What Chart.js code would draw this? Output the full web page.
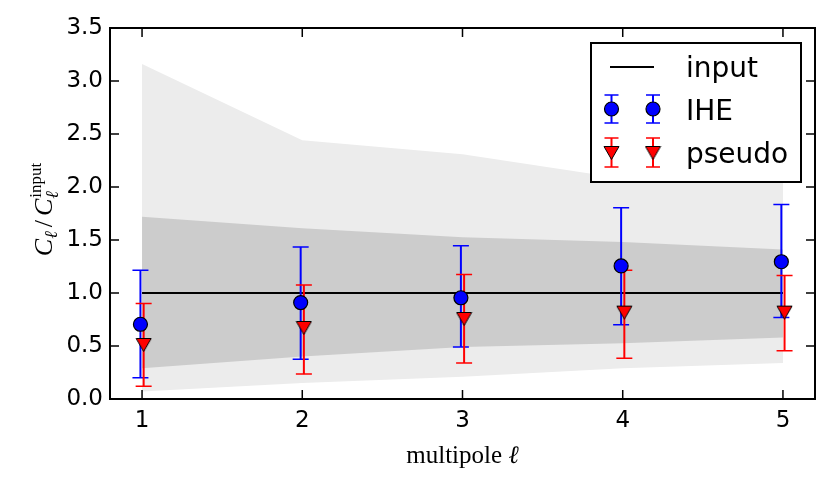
<!DOCTYPE html>
<html lang="en">
<head>
<meta charset="UTF-8">
<title>IHE vs pseudo</title>
<script src="https://cdn.jsdelivr.net/npm/chart.js"></script>
<style>
  html, body { margin: 0; padding: 0; background: #fff; }
  #wrap { width: 830px; height: 488px; }
</style>
</head>
<body>
<div id="wrap"><canvas id="myChart"></canvas></div>
<script>
// multipoles
const ell = [1, 2, 3, 4, 5];
const inputRatio = [1, 1, 1, 1, 1];

// IHE estimate and error bar ends
const ihe = [0.705, 0.91, 0.955, 1.255, 1.295];
const iheLo = [0.20, 0.375, 0.49, 0.70, 0.77];
const iheHi = [1.215, 1.435, 1.445, 1.805, 1.835];

// pseudo-Cl estimate and error bar ends
const pseudo = [0.51, 0.67, 0.755, 0.815, 0.815];
const pseudoLo = [0.12, 0.235, 0.34, 0.385, 0.455];
const pseudoHi = [0.90, 1.075, 1.175, 1.215, 1.165];

// grey bands (outer = light, inner = dark)
const outerHi = [3.16, 2.44, 2.31, 2.08, 2.07];
const outerLo = [0.07, 0.15, 0.21, 0.29, 0.34];
const innerHi = [1.72, 1.61, 1.525, 1.48, 1.41];
const innerLo = [0.29, 0.40, 0.49, 0.525, 0.58];

const xTicks = [1, 2, 3, 4, 5];
const yTicks = [0, 0.5, 1, 1.5, 2, 2.5, 3, 3.5];

const xShift = 0.01; // small horizontal offset between the two estimators

const pts = (xs, ys, dx) => xs.map((x, i) => ({x: x + (dx || 0), y: ys[i]}));

// matplotlib style downward triangle marker
const tri = document.createElement('canvas');
tri.width = 17; tri.height = 16;
(function () {
    const c = tri.getContext('2d');
    c.beginPath();
    c.moveTo(1, 1.5);
    c.lineTo(16, 1.5);
    c.lineTo(8.5, 14.5);
    c.closePath();
    c.fillStyle = '#ff0000';
    c.fill();
    c.lineWidth = 1;
    c.strokeStyle = '#000';
    c.stroke();
})();

function errBar(ctx, px, pyLo, pyHi, color, cap) {
    ctx.strokeStyle = color;
    ctx.lineWidth = 2;
    ctx.beginPath();
    ctx.moveTo(px, pyLo); ctx.lineTo(px, pyHi);
    ctx.stroke();
    ctx.lineWidth = 1.5;
    ctx.beginPath();
    ctx.moveTo(px - cap, pyLo); ctx.lineTo(px + cap, pyLo);
    ctx.moveTo(px - cap, pyHi); ctx.lineTo(px + cap, pyHi);
    ctx.stroke();
}

const errorBars = {
    id: 'errorBars',
    afterDatasetDraw(chart, args) {
        if (args.index !== 4) return;
        const {ctx, scales: {x, y}} = chart;
        ctx.save();
        ell.forEach((l, i) => {
            errBar(ctx, x.getPixelForValue(l - xShift), y.getPixelForValue(iheLo[i]), y.getPixelForValue(iheHi[i]), '#0000ff', 8);
        });
        ell.forEach((l, i) => {
            errBar(ctx, x.getPixelForValue(l + xShift), y.getPixelForValue(pseudoLo[i]), y.getPixelForValue(pseudoHi[i]), '#ff0000', 8);
        });
        ctx.restore();
    }
};

// box with inward ticks on all four sides
const frame = {
    id: 'frame',
    afterDatasetsDraw(chart) {
        const {ctx, chartArea: a, scales: {x, y}} = chart;
        ctx.save();
        ctx.strokeStyle = '#000';
        ctx.lineWidth = 1.5;
        ctx.beginPath();
        xTicks.forEach(v => {
            const px = x.getPixelForValue(v);
            ctx.moveTo(px, a.bottom); ctx.lineTo(px, a.bottom - 9);
            ctx.moveTo(px, a.top); ctx.lineTo(px, a.top + 9);
        });
        yTicks.forEach(v => {
            const py = y.getPixelForValue(v);
            ctx.moveTo(a.left, py); ctx.lineTo(a.left + 9, py);
            ctx.moveTo(a.right, py); ctx.lineTo(a.right - 9, py);
        });
        ctx.stroke();
        ctx.lineWidth = 2;
        ctx.strokeRect(a.left, a.top, a.right - a.left, a.bottom - a.top);
        ctx.restore();
    }
};

const labels = {
    id: 'labels',
    afterDraw(chart) {
        const {ctx, chartArea: a} = chart;
        ctx.save();
        ctx.fillStyle = '#000';

        // x title: multipole ℓ
        ctx.textBaseline = 'alphabetic';
        const t1 = 'multipole ';
        ctx.font = '25px "Liberation Serif"';
        const w1 = ctx.measureText(t1).width;
        ctx.font = 'italic 25px "Liberation Serif"';
        const w2 = ctx.measureText('\u2113').width;
        let sx = (a.left + a.right) / 2 - (w1 + w2) / 2;
        ctx.font = '25px "Liberation Serif"';
        ctx.fillText(t1, sx, 463);
        ctx.font = 'italic 25px "Liberation Serif"';
        ctx.fillText('\u2113', sx + w1, 463);

        // y title: C_ℓ / C_ℓ^input
        ctx.translate(52, 210);
        ctx.rotate(-Math.PI / 2);
        const big = 'italic 26px "Liberation Serif"';
        const sub = 'italic 18px "Liberation Serif"';
        const up = '17px "Liberation Serif"';
        const reg = '26px "Liberation Serif"';
        const m = (f, s) => { ctx.font = f; return ctx.measureText(s).width; };
        const parts = [
            [big, 'C', 0], [sub, '\u2113', 5], [reg, '/', 0], [big, 'C', 0]
        ];
        let total = 0;
        parts.forEach(p => { total += m(p[0], p[1]); });
        const stackW = Math.max(m(up, 'input'), m(sub, '\u2113'));
        total += stackW + 8;
        let px = -total / 2;
        parts.forEach((p, i) => {
            ctx.font = p[0];
            ctx.fillText(p[1], px, p[2]);
            px += ctx.measureText(p[1]).width + (i === 1 || i === 2 ? 4 : 0);
        });
        ctx.font = up;
        ctx.fillText('input', px + 1, -11);
        ctx.font = sub;
        ctx.fillText('\u2113', px, 6);
        ctx.restore();

        // legend
        ctx.save();
        const lx = 591, ly = 43, lw = 210, lh = 139;
        ctx.fillStyle = '#fff';
        ctx.fillRect(lx, ly, lw, lh);
        ctx.strokeStyle = '#000';
        ctx.lineWidth = 2;
        ctx.strokeRect(lx, ly, lw, lh);

        ctx.lineWidth = 2;
        ctx.beginPath();
        ctx.moveTo(610, 67); ctx.lineTo(654, 67);
        ctx.stroke();

        [611.5, 653].forEach(cx => {
            errBar(ctx, cx, 95, 123, '#0000ff', 7);
            ctx.beginPath();
            ctx.arc(cx, 109, 7, 0, Math.PI * 2);
            ctx.fillStyle = '#0000ff';
            ctx.fill();
            ctx.lineWidth = 1.2;
            ctx.strokeStyle = '#000';
            ctx.stroke();
        });
        [611.5, 653].forEach(cx => {
            errBar(ctx, cx, 138, 167, '#ff0000', 7);
            ctx.drawImage(tri, cx - tri.width / 2, 153 - tri.height / 2);
        });

        ctx.fillStyle = '#000';
        ctx.font = '28px "DejaVu Sans"';
        ctx.textBaseline = 'alphabetic';
        ctx.fillText('input', 686, 77);
        ctx.fillText('IHE', 686, 120);
        ctx.fillText('pseudo', 686, 163);
        ctx.restore();
    }
};

Chart.defaults.font.family = '"DejaVu Sans"';
Chart.defaults.color = '#000';

const ctx = document.getElementById('myChart').getContext('2d');
new Chart(ctx, {
    type: 'line',
    data: {
        datasets: [{
            label: 'outer upper',
            data: pts(ell, outerHi),
            fill: 1,
            backgroundColor: '#ececec',
            borderWidth: 0,
            pointRadius: 0,
            order: 6
        }, {
            label: 'outer lower',
            data: pts(ell, outerLo),
            fill: false,
            borderWidth: 0,
            pointRadius: 0,
            order: 6
        }, {
            label: 'inner upper',
            data: pts(ell, innerHi),
            fill: 3,
            backgroundColor: '#cccccc',
            borderWidth: 0,
            pointRadius: 0,
            order: 5
        }, {
            label: 'inner lower',
            data: pts(ell, innerLo),
            fill: false,
            borderWidth: 0,
            pointRadius: 0,
            order: 5
        }, {
            label: 'input',
            data: pts(ell, inputRatio),
            borderColor: '#000',
            borderWidth: 2,
            pointRadius: 0,
            fill: false,
            order: 4
        }, {
            label: 'pseudo',
            data: pts(ell, pseudo, xShift),
            showLine: false,
            pointStyle: tri,
            pointRadius: 8,
            order: 2
        }, {
            label: 'IHE',
            data: pts(ell, ihe, -xShift),
            showLine: false,
            pointStyle: 'circle',
            pointRadius: 7,
            pointBackgroundColor: '#0000ff',
            pointBorderColor: '#000',
            pointBorderWidth: 1.2,
            order: 1
        }]
    },
    options: {
        animation: false,
        responsive: true,
        maintainAspectRatio: false,
        layout: {padding: {top: 28, right: 15, left: 0, bottom: 0}},
        plugins: {
            legend: {display: false},
            tooltip: {enabled: false}
        },
        scales: {
            x: {
                type: 'linear',
                min: 0.8,
                max: 5.2,
                afterBuildTicks: s => { s.ticks = xTicks.map(v => ({value: v})); },
                afterFit: s => { s.height = 89; },
                grid: {display: false, drawTicks: false},
                border: {display: false},
                ticks: {font: {size: 23}, padding: 8, color: '#000', maxRotation: 0}
            },
            y: {
                min: 0,
                max: 3.5,
                afterBuildTicks: s => { s.ticks = yTicks.map(v => ({value: v})); },
                afterFit: s => { s.width = 110; },
                grid: {display: false, drawTicks: false},
                border: {display: false},
                ticks: {font: {size: 23}, padding: 7, color: '#000', callback: v => v.toFixed(1)}
            }
        }
    },
    plugins: [errorBars, frame, labels]
});
</script>
</body>
</html>
